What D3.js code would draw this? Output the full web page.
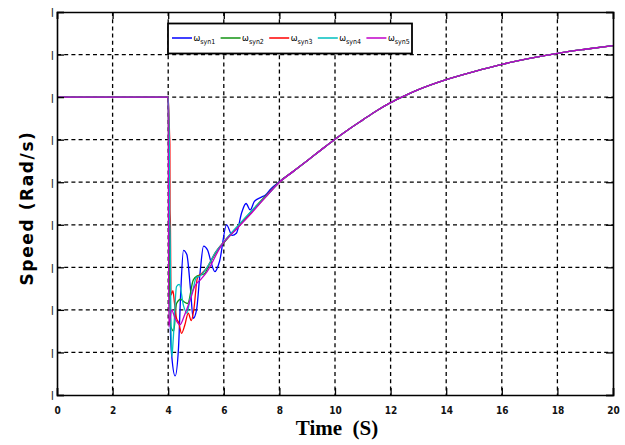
<!DOCTYPE html>
<html>
<head>
<meta charset="utf-8">
<script src="https://cdn.jsdelivr.net/npm/d3@7/dist/d3.min.js"></script>
<style>
  html, body { margin: 0; padding: 0; background: #fff; }
  svg { display: block; }
</style>
</head>
<body>
<svg id="chart" width="625" height="445"></svg>
<script>
// Rotor speed of five synchronous machines, step disturbance at t = 4 s
const seriesNames = ["syn1", "syn2", "syn3", "syn4", "syn5"];
const seriesColors = ["#0000ff", "#129312", "#ff0000", "#00bfbf", "#c000c8"];

const xTicks = [0, 2, 4, 6, 8, 10, 12, 14, 16, 18, 20];
const yTicks = [0, 20, 40, 60, 80, 100, 120, 140, 160, 180];

// common pre-disturbance level (t = 0 .. 4 s)
const preStep = [[0, 140], [4.0, 140]];

// common recovery after the oscillations have settled (t >= 8 s)
const recovery = [
  [8.5, 105.1], [9, 110.1], [9.5, 115.2], [10, 120.2], [10.5, 124.9],
  [11, 129.3], [11.5, 133.6], [12, 137.4], [12.5, 140.6], [13, 143.5],
  [14, 148.2], [15, 152], [16, 155.4], [17, 158.2], [18, 160.6],
  [19, 162.5], [20, 164.2]
];

// transient part of each machine, [time (s), speed (rad/s)]
const syn1 = [
  [4.04, 88], [4.08, 30], [4.13, 18], [4.25, 9], [4.37, 22], [4.45, 48],
  [4.55, 68], [4.67, 66], [4.8, 50], [4.9, 36], [5.02, 40], [5.15, 58],
  [5.27, 70], [5.42, 68], [5.55, 62], [5.68, 58], [5.85, 63], [6.1, 80],
  [6.3, 75], [6.45, 76], [6.65, 86], [6.8, 90], [6.95, 87], [7.1, 91],
  [7.35, 93], [7.5, 94], [7.7, 97], [8, 100.3]
];
const syn2 = [
  [4.03, 75], [4.1, 32], [4.2, 30], [4.3, 43], [4.45, 45], [4.55, 44],
  [4.7, 43], [4.9, 54], [5.05, 56], [5.3, 57], [5.5, 62], [5.8, 68.5],
  [6.0, 71.5], [6.5, 79], [7, 86.5], [7.5, 93.5], [8, 100.2]
];
const syn3 = [
  [4.05, 122], [4.06, 118], [4.065, 87], [4.08, 80], [4.1, 47], [4.17, 49],
  [4.22, 44], [4.3, 36], [4.38, 34], [4.48, 29], [4.6, 33], [4.72, 38.5],
  [4.83, 35], [4.92, 40], [5.05, 55], [5.2, 57], [5.4, 60], [5.7, 67],
  [6.0, 72], [6.5, 79], [7, 86], [7.5, 93], [8, 100]
];
const syn4 = [
  [4.04, 119], [4.05, 85], [4.07, 75], [4.1, 32], [4.13, 18], [4.18, 26],
  [4.3, 51], [4.4, 52], [4.55, 42], [4.67, 38.5], [4.8, 46], [4.9, 50],
  [5.0, 55], [5.15, 56], [5.4, 60], [5.7, 67], [6, 72], [6.5, 79.5],
  [7, 86.5], [7.5, 93], [8, 100]
];
const syn5 = [
  [4.02, 32], [4.12, 40], [4.25, 36], [4.42, 33], [4.6, 38], [4.8, 45],
  [4.95, 51], [5.15, 54], [5.4, 58], [5.9, 70], [6.5, 78.5], [7, 85.5],
  [7.5, 93], [8, 100]
];

const transients = [syn1, syn2, syn3, syn4, syn5];

const svg = d3.select("#chart");
const plot = { left: 57, right: 613, top: 12, bottom: 395 };

const x = d3.scaleLinear().domain([0, 20]).range([plot.left, plot.right]);
const y = d3.scaleLinear().domain([0, 180]).range([plot.bottom, plot.top]);

// dashed grid
const grid = svg.append("g").attr("stroke", "#000").attr("stroke-width", 1.3)
  .attr("stroke-dasharray", "4,3.2");
grid.selectAll("line.v").data(xTicks.slice(1, -1)).join("line")
  .attr("x1", d => x(d)).attr("x2", d => x(d))
  .attr("y1", plot.top).attr("y2", plot.bottom);
grid.selectAll("line.h").data(yTicks.slice(1, -1)).join("line")
  .attr("x1", plot.left).attr("x2", plot.right)
  .attr("y1", d => y(d)).attr("y2", d => y(d));

// curves
const line = d3.line()
  .x(d => x(d[0])).y(d => y(d[1]))
  .curve(d3.curveMonotoneX);

const curves = svg.append("g").attr("fill", "none").attr("stroke-width", 1.3)
  .attr("stroke-linejoin", "round");
transients.forEach((tr, i) => {
  const pts = preStep.concat(tr, recovery);
  curves.append("path")
    .attr("d", line(pts))
    .attr("stroke", seriesColors[i]);
});

// axes with inward ticks
const tickLen = 7;
const fontTick = "'Liberation Sans Narrow', 'DejaVu Sans Condensed', sans-serif";

const xAxis = svg.append("g")
  .attr("transform", `translate(0,${plot.bottom})`)
  .call(d3.axisBottom(x).tickValues(xTicks).tickSize(-tickLen).tickPadding(12)
        .tickFormat(d3.format("d")));
xAxis.selectAll("text").attr("font-family", fontTick).attr("font-size", 10)
  .attr("font-weight", "bold").attr("fill", "#111");

const yAxis = svg.append("g")
  .attr("transform", `translate(${plot.left},0)`)
  .call(d3.axisLeft(y).tickValues(yTicks).tickSize(-tickLen).tickPadding(3)
        .tickFormat(() => "|"));
yAxis.selectAll("text").attr("font-family", "DejaVu Sans, sans-serif")
  .attr("font-size", 9).attr("font-weight", "bold").attr("fill", "#222");

svg.append("g").attr("transform", `translate(0,${plot.top})`)
  .call(d3.axisTop(x).tickValues(xTicks).tickSize(-tickLen).tickFormat(""));
svg.append("g").attr("transform", `translate(${plot.right},0)`)
  .call(d3.axisRight(y).tickValues(yTicks).tickSize(-tickLen).tickFormat(""));

svg.selectAll(".domain").attr("stroke", "#000").attr("stroke-width", 1.6);
svg.selectAll(".tick line").attr("stroke", "#000").attr("stroke-width", 1.3);

// legend
const legend = svg.append("g");
legend.append("rect")
  .attr("x", 168).attr("y", 23.5).attr("width", 244).attr("height", 30)
  .attr("fill", "#fff").attr("stroke", "#000").attr("stroke-width", 1.8);
seriesNames.forEach((name, i) => {
  const x0 = 172 + i * 48.6;
  legend.append("line")
    .attr("x1", x0).attr("x2", x0 + 20).attr("y1", 38).attr("y2", 38)
    .attr("stroke", seriesColors[i]).attr("stroke-width", 1.5);
  const t = legend.append("text")
    .attr("x", x0 + 21.5).attr("y", 41)
    .attr("font-family", fontTick).attr("font-size", 9).attr("fill", "#000");
  t.append("tspan").text("ω");
  t.append("tspan").attr("font-size", 7).attr("dy", 2.5).text(name);
});

// axis titles
svg.append("text")
  .attr("x", 337).attr("y", 435)
  .attr("text-anchor", "middle")
  .attr("font-family", "'Liberation Serif', 'DejaVu Serif', serif")
  .attr("font-weight", "bold").attr("font-size", 21)
  .style("white-space", "pre")
  .text("Time\u00a0 (S)");

svg.append("text")
  .attr("transform", "translate(33,208) rotate(-90)")
  .attr("text-anchor", "middle")
  .attr("font-family", "'DejaVu Sans', sans-serif")
  .attr("font-weight", "bold").attr("font-size", 17)
  .attr("letter-spacing", 1.6)
  .text("Speed (Rad/s)");
</script>
</body>
</html>
